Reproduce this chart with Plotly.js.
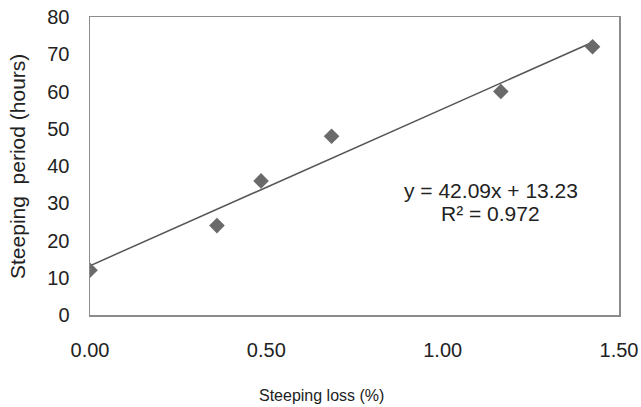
<!DOCTYPE html>
<html>
<head>
<meta charset="utf-8">
<script src="https://cdn.plot.ly/plotly-3.0.1.min.js"></script>
<style>html,body{margin:0;padding:0;background:#fff;}#chart{width:641px;height:407px;}</style>
</head>
<body>
<div id="chart"></div>
<script>
// Data
const steepingLoss = [0.00, 0.36, 0.485, 0.685, 1.165, 1.425];
const steepingPeriod = [12, 24, 36, 48, 60, 72];
const trendSlope = 42.09;
const trendIntercept = 13.23;
const trendLabel = "y = 42.09x + 13.23";
const r2Label = "R\u00B2 = 0.972";
const xTitle = "Steeping loss (%)";
const yTitle = "Steeping  period (hours)";
const xTickVals = [0, 0.5, 1.0, 1.5];
const xTickText = ["0.00", "0.50", "1.00", "1.50"];
const yTickVals = [0, 10, 20, 30, 40, 50, 60, 70, 80];

const xMin = Math.min(...steepingLoss), xMax = Math.max(...steepingLoss);
const trendX = [xMin, xMax];
const trendY = trendX.map(x => trendSlope * x + trendIntercept);

const axisFont = {family: "Liberation Sans, Arial, sans-serif", size: 20, color: "#222"};

const traces = [
  {x: trendX, y: trendY, mode: "lines", type: "scatter",
   line: {color: "#555555", width: 1.5}, hoverinfo: "skip", showlegend: false},
  {x: steepingLoss, y: steepingPeriod, mode: "markers", type: "scatter",
   marker: {symbol: "diamond", size: 12, color: "#6a6a6a"}, showlegend: false}
];

const layout = {
  width: 641, height: 407,
  margin: {l: 90, r: 22, t: 17, b: 92},
  paper_bgcolor: "#fff", plot_bgcolor: "#fff",
  showlegend: false,
  xaxis: {
    range: [0, 1.5], tickvals: xTickVals, ticktext: xTickText,
    showgrid: false, zeroline: false, showline: true, mirror: true,
    linecolor: "#8c8c8c", linewidth: 1.5, ticks: "",
    ticklabelstandoff: 16,
    tickfont: axisFont
  },
  yaxis: {
    range: [0, 80], tickvals: yTickVals,
    showgrid: false, zeroline: false, showline: true, mirror: true,
    linecolor: "#8c8c8c", linewidth: 1.5, ticks: "",
    ticklabelstandoff: 15,
    tickfont: axisFont
  },
  annotations: [
    {xref: "paper", yref: "paper", x: 0.758, y: 0.419, text: trendLabel, showarrow: false,
     font: {family: "Liberation Sans, Arial, sans-serif", size: 21, color: "#222"}, xanchor: "center", yanchor: "middle"},
    {xref: "paper", yref: "paper", x: 0.758, y: 0.339, text: r2Label, showarrow: false,
     font: {family: "Liberation Sans, Arial, sans-serif", size: 21, color: "#222"}, xanchor: "center", yanchor: "middle"},
    {xref: "paper", yref: "paper", x: 0.437, y: -0.269, text: xTitle, showarrow: false,
     font: {family: "Liberation Sans, Arial, sans-serif", size: 16, color: "#222"}, xanchor: "center", yanchor: "middle"},
    {xref: "paper", yref: "paper", x: -0.138, y: 0.5, text: yTitle, showarrow: false, textangle: -90,
     font: {family: "Liberation Sans, Arial, sans-serif", size: 21, color: "#222"}, xanchor: "center", yanchor: "middle"}
  ]
};

Plotly.newPlot("chart", traces, layout, {displayModeBar: false, staticPlot: true});
</script>
</body>
</html>
